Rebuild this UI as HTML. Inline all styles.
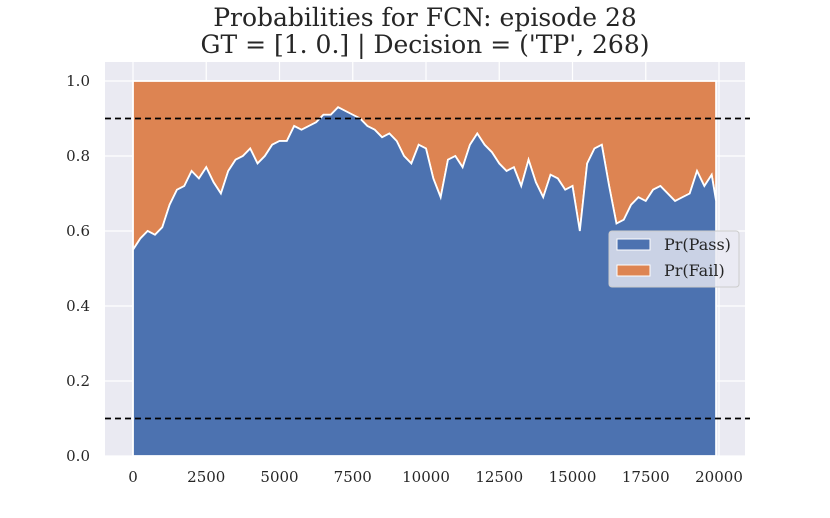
<!DOCTYPE html>
<html><head><meta charset="utf-8"><style>
body{margin:0;background:#fff;}
svg text{font-family:"DejaVu Serif","Liberation Serif",serif;fill:#262626;}
</style></head><body>
<svg id="chart" width="830" height="513" xmlns="http://www.w3.org/2000/svg">
<g id="g"></g>
</svg>
<script>
const steps = [0,250,500,750,1000,1250,1500,1750,2000,2250,2500,2750,3000,3250,3500,3750,4000,4250,4500,4750,5000,5250,5500,5750,6000,6250,6500,6750,7000,7250,7500,7750,8000,8250,8500,8750,9000,9250,9500,9750,10000,10250,10500,10750,11000,11250,11500,11750,12000,12250,12500,12750,13000,13250,13500,13750,14000,14250,14500,14750,15000,15250,15500,15750,16000,16250,16500,16750,17000,17250,17500,17750,18000,18250,18500,18750,19000,19250,19500,19750,19900];
const passProb = [0.55,0.58,0.60,0.59,0.61,0.67,0.71,0.72,0.76,0.74,0.77,0.73,0.70,0.76,0.79,0.80,0.82,0.78,0.80,0.83,0.84,0.84,0.88,0.87,0.88,0.89,0.91,0.91,0.93,0.92,0.91,0.90,0.88,0.87,0.85,0.86,0.84,0.80,0.78,0.83,0.82,0.74,0.69,0.79,0.80,0.77,0.83,0.86,0.83,0.81,0.78,0.76,0.77,0.72,0.79,0.73,0.69,0.75,0.74,0.71,0.72,0.60,0.78,0.82,0.83,0.72,0.62,0.63,0.67,0.69,0.68,0.71,0.72,0.70,0.68,0.69,0.70,0.76,0.72,0.75,0.68];
const xTicks = [0,2500,5000,7500,10000,12500,15000,17500,20000];
const yTicks = [0.0,0.2,0.4,0.6,0.8,1.0];
const thresholds = [0.9,0.1];

const L=105,R=745,T=62,B=456;
const X=v=>133+v*(719-133)/20000;
const Y=v=>456-v*375;
const g=document.getElementById('g');
const NS='http://www.w3.org/2000/svg';
function mk(tag,attrs,parent){const e=document.createElementNS(NS,tag);for(const k in attrs)e.setAttribute(k,attrs[k]);(parent||g).appendChild(e);return e;}

let bg=mk('rect',{x:L,y:T,width:R-L,height:B-T,fill:'#EAEAF2'});


xTicks.forEach(t=>{
  let l=mk('line',{x1:X(t),x2:X(t),y1:T,y2:B,stroke:'#fff','stroke-width':1.2});
  
  
  let tx=mk('text',{x:X(t),y:482,'text-anchor':'middle','font-size':15});
  tx.textContent=t;
  
  
});
yTicks.forEach(t=>{
  let l=mk('line',{x1:L,x2:R,y1:Y(t),y2:Y(t),stroke:'#fff','stroke-width':1.2});
  
  
  let tx=mk('text',{x:90,y:Y(t)+5,'text-anchor':'end','font-size':15});
  tx.textContent=t.toFixed(1);
  
  
});
let failPts=steps.map((s,i)=>X(s)+','+Y(passProb[i]));
let fail=mk('polygon',{points:X(steps[0])+','+Y(1)+' '+failPts.join(' ')+' '+X(steps[steps.length-1])+','+Y(1),fill:'#DD8452',stroke:'#fff','stroke-width':1.8});


let pass=mk('polygon',{points:X(steps[0])+','+Y(0)+' '+failPts.join(' ')+' '+X(steps[steps.length-1])+','+Y(0),fill:'#4C72B0',stroke:'#fff','stroke-width':1.8});


thresholds.forEach(t=>{
  let l=mk('line',{x1:L,x2:R+5,y1:Y(t),y2:Y(t),stroke:'#000','stroke-width':1.8,'stroke-dasharray':'6,4'});
  
  
});
let lg=mk('g',{});


mk('rect',{x:609,y:231,width:130,height:56,rx:3,fill:'#EAEAF2','fill-opacity':0.8,stroke:'#ccc'},lg);
let e1=mk('rect',{x:617,y:239,width:33,height:11,fill:'#4C72B0',stroke:'#fff'},lg);


let t1=mk('text',{x:664,y:250,'font-size':16},lg);t1.textContent='Pr(Pass)';


let e2=mk('rect',{x:617,y:265,width:33,height:11,fill:'#DD8452',stroke:'#fff'},lg);


let t2=mk('text',{x:664,y:276,'font-size':16},lg);t2.textContent='Pr(Fail)';


let ti1=mk('text',{x:425,y:26,'text-anchor':'middle','font-size':25});ti1.textContent='Probabilities for FCN: episode 28';


let ti2=mk('text',{x:425,y:53,'text-anchor':'middle','font-size':25});ti2.textContent="GT = [1. 0.] | Decision = ('TP', 268)";


</script>
</body></html>
